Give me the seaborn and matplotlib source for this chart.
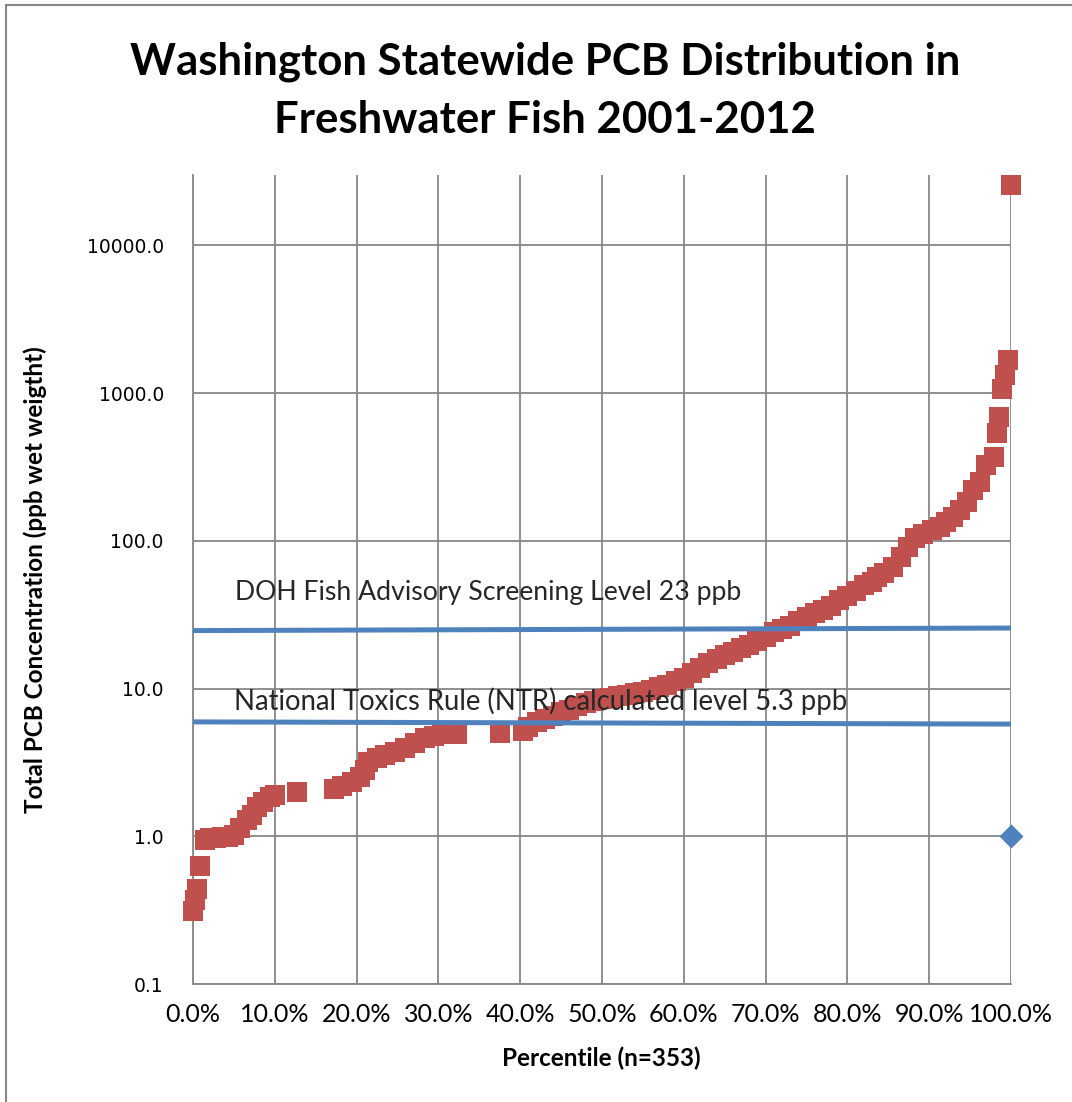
import numpy as np
import pandas as pd
import seaborn as sns
import matplotlib
matplotlib.use("Agg")
import matplotlib.pyplot as plt
from matplotlib.ticker import FixedLocator, MultipleLocator, PercentFormatter, LogLocator, NullFormatter, FuncFormatter
from matplotlib.patches import Rectangle

# ---------------- data ----------------
percentile = [0.0, 0.25, 0.55, 0.85, 1.5, 2.1, 2.8, 3.5, 4.3, 5.0, 5.7, 6.6, 7.2, 7.8, 8.6, 9.4, 10.0,
              12.7, 17.2, 18.2, 19.4, 20.4, 21.0, 21.4, 22.5, 23.5, 24.7, 25.9, 27.1, 28.4, 29.5, 30.5,
              31.5, 32.3, 37.5, 40.3, 41.0, 42.0, 43.0, 44.0, 45.0, 46.0, 47.0, 48.0, 49.0, 50.0, 51.0,
              52.0, 53.0, 54.0, 55.0, 56.0, 57.0, 58.0, 59.0, 60.0, 61.0, 62.0, 63.0, 64.0, 65.0, 66.0,
              67.0, 68.0, 69.0, 70.0, 71.0, 72.0, 73.0, 74.0, 75.0, 76.0, 77.0, 78.0, 79.0, 80.0, 81.0,
              82.0, 83.0, 83.6, 84.5, 85.6, 86.6, 87.4, 88.3, 89.3, 90.3, 91.3, 92.1, 92.9, 93.8, 94.6,
              95.4, 96.2, 97.0, 97.9, 98.3, 98.5, 98.9, 99.3, 99.6, 100.0]
pcb_ppb = [0.31, 0.37, 0.44, 0.63, 0.94, 0.97, 0.98, 0.99, 0.99, 1.02, 1.13, 1.28, 1.39, 1.58, 1.71, 1.85, 1.9,
           1.99, 2.1, 2.2, 2.33, 2.52, 2.8, 3.19, 3.37, 3.54, 3.72, 3.95, 4.26, 4.6, 4.8, 4.9,
           4.95, 4.95, 4.98, 5.2, 5.5, 5.9, 6.2, 6.5, 6.9, 7.2, 7.6, 8.0, 8.3, 8.5, 8.7,
           8.9, 9.1, 9.3, 9.5, 9.8, 10.2, 10.6, 11.2, 11.8, 12.8, 13.8, 14.8, 15.8, 16.8, 17.8,
           18.8, 19.8, 21.0, 22.5, 24.0, 25.3, 26.5, 28.5, 30.5, 32.5, 34.0, 36.5, 39.5, 42.5, 45.5,
           50.0, 53.0, 57.0, 61.0, 67.0, 78.0, 91.0, 104.0, 112.0, 118.0, 125.0, 135.0, 146.0, 162.0, 184.0,
           221.0, 251.0, 326.0, 371.0, 540.0, 687.0, 1064.0, 1328.0, 1679.0, 25760.0]

level_name = ["DOH", "DOH", "NTR", "NTR"]
level_pct = [0.0, 100.0, 0.0, 100.0]
level_ppb = [24.7, 25.7, 5.95, 5.75]

extra_pct = [100.0]
extra_ppb = [1.0]

y_ticks = [0.1, 1, 10, 100, 1000, 10000]

title_lines = ["Washington Statewide PCB Distribution in", "Freshwater Fish 2001-2012"]
doh_label = "DOH Fish Advisory Screening Level 23 ppb"
ntr_label = "National Toxics Rule (NTR) calculated level 5.3 ppb"

# ---------------- figure ----------------
sns.set_theme(style="white")
plt.rcParams["font.family"] = ["Lato", "DejaVu Sans"]

W, H = 1072, 1102
fig = plt.figure(figsize=(W / 100, H / 100), dpi=100)
ax = fig.add_axes([193 / W, 1 - 984 / H, (1011 - 193) / W, (984 - 175) / H])

GRID = "#878787"
RED = "#C0504D"
BLUE = "#4F81BD"

df = pd.DataFrame({"pct": np.array(percentile) / 100.0, "pcb": pcb_ppb})
sns.scatterplot(data=df, x="pct", y="pcb", marker="s", s=205, color=RED, linewidth=0,
                ax=ax, clip_on=False, zorder=3, legend=False)

dl = pd.DataFrame({"pct": np.array(level_pct) / 100.0, "pcb": level_ppb, "level": level_name})
sns.lineplot(data=dl, x="pct", y="pcb", hue="level", palette={"DOH": BLUE, "NTR": BLUE},
             linewidth=3.6, ax=ax, legend=False, zorder=4)

de = pd.DataFrame({"pct": np.array(extra_pct) / 100.0, "pcb": extra_ppb})
sns.scatterplot(data=de, x="pct", y="pcb", marker="D", s=150, color=BLUE, linewidth=0,
                ax=ax, clip_on=False, zorder=5, legend=False)

ax.set_yscale("log")
ax.set_xlim(0, 1)
ax.set_ylim(0.1, 30000)

ax.xaxis.set_major_locator(MultipleLocator(0.1))
ax.xaxis.set_minor_locator(MultipleLocator(0.02))
ax.xaxis.set_major_formatter(PercentFormatter(xmax=1.0, decimals=1))
ax.yaxis.set_major_locator(FixedLocator(y_ticks))
ax.yaxis.set_minor_locator(LogLocator(base=10, subs=np.arange(2, 10)))
ax.yaxis.set_major_formatter(FuncFormatter(lambda v, p: f"{v:.1f}"))
ax.yaxis.set_minor_formatter(NullFormatter())

ax.grid(True, which="major", color=GRID, linewidth=1.3)
ax.set_axisbelow(True)
for s in ["top", "right"]:
    ax.spines[s].set_visible(False)
for s in ["left", "bottom"]:
    ax.spines[s].set_color(GRID)
    ax.spines[s].set_linewidth(1.3)

ax.tick_params(axis="both", which="major", direction="inout", length=8, width=1.3, color=GRID,
               labelcolor="black")
ax.tick_params(axis="x", which="major", labelsize=18, pad=10)
ax.tick_params(axis="y", which="major", labelsize=13.5, pad=17)
ax.tick_params(axis="x", which="minor", direction="in", length=4, width=1.3, color=GRID)
ax.tick_params(axis="y", which="minor", direction="out", length=4, width=1.3, color=GRID)
for lab in ax.get_yticklabels():
    lab.set_fontfamily(["DejaVu Sans"])

ax.set_xlabel("")
ax.set_ylabel("")

ax.text(0.0513, 39.5, doh_label, fontsize=19.2, ha="left", va="baseline", zorder=6)
ax.text(0.0500, 7.14, ntr_label, fontsize=19.8, ha="left", va="baseline", zorder=6)

fig.text(545 / W, 1 - 75 / H, title_lines[0], fontsize=31.5, fontweight="bold", ha="center",
         va="baseline", color="black")
fig.text(545 / W, 1 - 133 / H, title_lines[1], fontsize=31.5, fontweight="bold", ha="center",
         va="baseline", color="black")
fig.text(35 / W, 1 - 580 / H, "Total PCB Concentration (ppb wet weigtht)", fontsize=17.5, fontweight="bold",
         rotation=90, ha="center", va="center", color="black")
fig.text(601 / W, 1 - 1058 / H, "Percentile (n=353)", fontsize=17.5, fontweight="bold", ha="center",
         va="center", color="black")

fig.patches.append(Rectangle((6 / W, -0.05), 1.2, 1 - 5 / H + 0.05, transform=fig.transFigure,
                             fill=False, edgecolor=GRID, linewidth=1.5, zorder=0))

fig.savefig("out.png", dpi=100)
